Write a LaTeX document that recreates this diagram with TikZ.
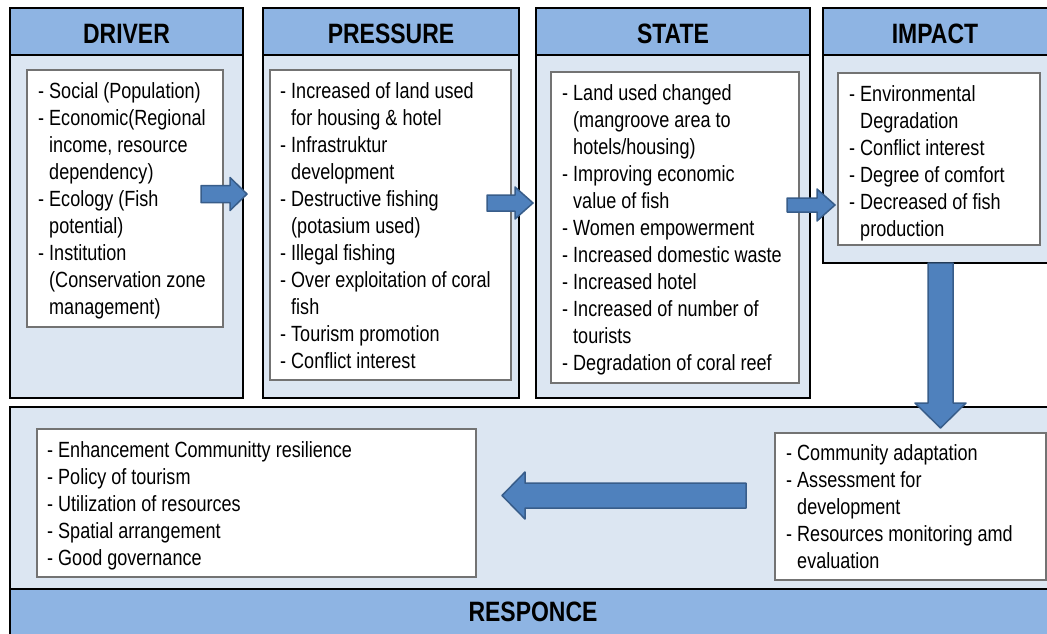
\documentclass[tikz,border=0pt]{standalone}
\usepackage{fontspec}
\setmainfont[FakeStretch=0.82]{Liberation Sans}
\usepackage{xcolor}
\usetikzlibrary{positioning}
\definecolor{headblue}{HTML}{8EB4E3}
\definecolor{bodyblue}{HTML}{DCE6F2}
\definecolor{arrowfill}{HTML}{4F81BD}
\definecolor{arrowline}{HTML}{385D8A}
\newcommand{\indt}{\hphantom{- }}

\begin{document}
\begin{tikzpicture}[x=1pt, y=-1pt,
	colbox/.style={fill=bodyblue, draw=black, line width=2.8pt},
	headbar/.style={fill=headblue, draw=black, line width=2.8pt},
	headtxt/.style={font=\bfseries\fontsize{28}{32}\selectfont, inner sep=0pt},
	listbox/.style={fill=white, draw=black!55, line width=1.2pt},
	listtxt/.style={anchor=north west, inner sep=0pt, align=left, font=\fontsize{22}{27}\selectfont},
	blockarrow/.style={fill=arrowfill, draw=arrowline, line width=1.5pt, line join=round}]
			\useasboundingbox (0,0) rectangle (1047,633);
			% columns
			\draw[colbox] (10,8) rectangle (243,398);
			\draw[headbar] (10,8) rectangle (243,55);
			\draw[colbox] (263,8) rectangle (519,398);
			\draw[headbar] (263,8) rectangle (519,55);
			\draw[colbox] (536,8) rectangle (810,398);
			\draw[headbar] (536,8) rectangle (810,55);
			\draw[colbox] (823,8) rectangle (1052,263);
			\draw[headbar] (823,8) rectangle (1052,55);
			\node[headtxt] (driver) at (126.5,34) {DRIVER};
			\node[headtxt] (pressure) at (391,34) {PRESSURE};
			\node[headtxt] (state) at (673,34) {STATE};
			\node[headtxt] (impact) at (935,34) {IMPACT};
			% lists
			\draw[listbox] (27,70) rectangle (223,327);
			\node[listtxt] (drvlist) at (38,79) {\strut- Social (Population)\\- Economic(Regional\\\indt income, resource\\\indt dependency)\\- Ecology (Fish\\\indt potential)\\- Institution\\\indt (Conservation zone\\\indt management)};
			\draw[listbox] (270,70) rectangle (511,380);
			\node[listtxt] (prslist) at (280,79) {\strut- Increased of land used\\\indt for housing \& hotel\\- Infrastruktur\\\indt development\\- Destructive fishing\\\indt (potasium used)\\- Illegal fishing\\- Over exploitation of coral\\\indt fish\\- Tourism promotion\\- Conflict interest};
			\draw[listbox] (551,72) rectangle (799,383);
			\node[listtxt] (stlist) at (562,81) {\strut- Land used changed\\\indt (mangroove area to\\\indt hotels/housing)\\- Improving economic\\\indt value of fish\\- Women empowerment\\- Increased domestic waste\\- Increased hotel\\- Increased of number of\\\indt tourists\\- Degradation of coral reef};
			\draw[listbox] (838,73) rectangle (1040,245);
			\node[listtxt] (implist) at (849,82) {\strut- Environmental\\\indt Degradation\\- Conflict interest\\- Degree of comfort\\- Decreased of fish\\\indt production};
			% responce
			\draw[colbox] (10,407) rectangle (1052,640);
			\draw[headbar] (10,589) rectangle (1052,640);
			\node[headtxt] (responce) at (533,612) {RESPONCE};
			\draw[listbox] (37,429) rectangle (476,577);
			\node[listtxt] (actlist) at (47,438) {\strut- Enhancement Communitty resilience\\- Policy of tourism\\- Utilization of resources\\- Spatial arrangement\\- Good governance};
			\draw[listbox] (775,433) rectangle (1046,580);
			\node[listtxt] (adplist) at (786,441) {\strut- Community adaptation\\- Assessment for\\\indt development\\- Resources monitoring amd\\\indt evaluation};
			% arrows
			\draw[blockarrow] (201,185.5) -- (230,185.5) -- (230,177.5) -- (247,194) -- (230,210.5) -- (230,202.5) -- (201,202.5) -- cycle;
			\draw[blockarrow] (487,195) -- (515,195) -- (515,187) -- (533,203) -- (515,219) -- (515,211) -- (487,211) -- cycle;
			\draw[blockarrow] (787,198) -- (817,198) -- (817,189) -- (835,205) -- (817,221) -- (817,212) -- (787,212) -- cycle;
			\draw[blockarrow] (928,263) -- (953,263) -- (953,403) -- (966,403) -- (940.5,428) -- (915,403) -- (928,403) -- cycle;
			\draw[blockarrow] (746,483) -- (525,483) -- (525,472) -- (502,495.5) -- (525,519) -- (525,508) -- (746,508) -- cycle;
		\end{tikzpicture}
\end{document}
